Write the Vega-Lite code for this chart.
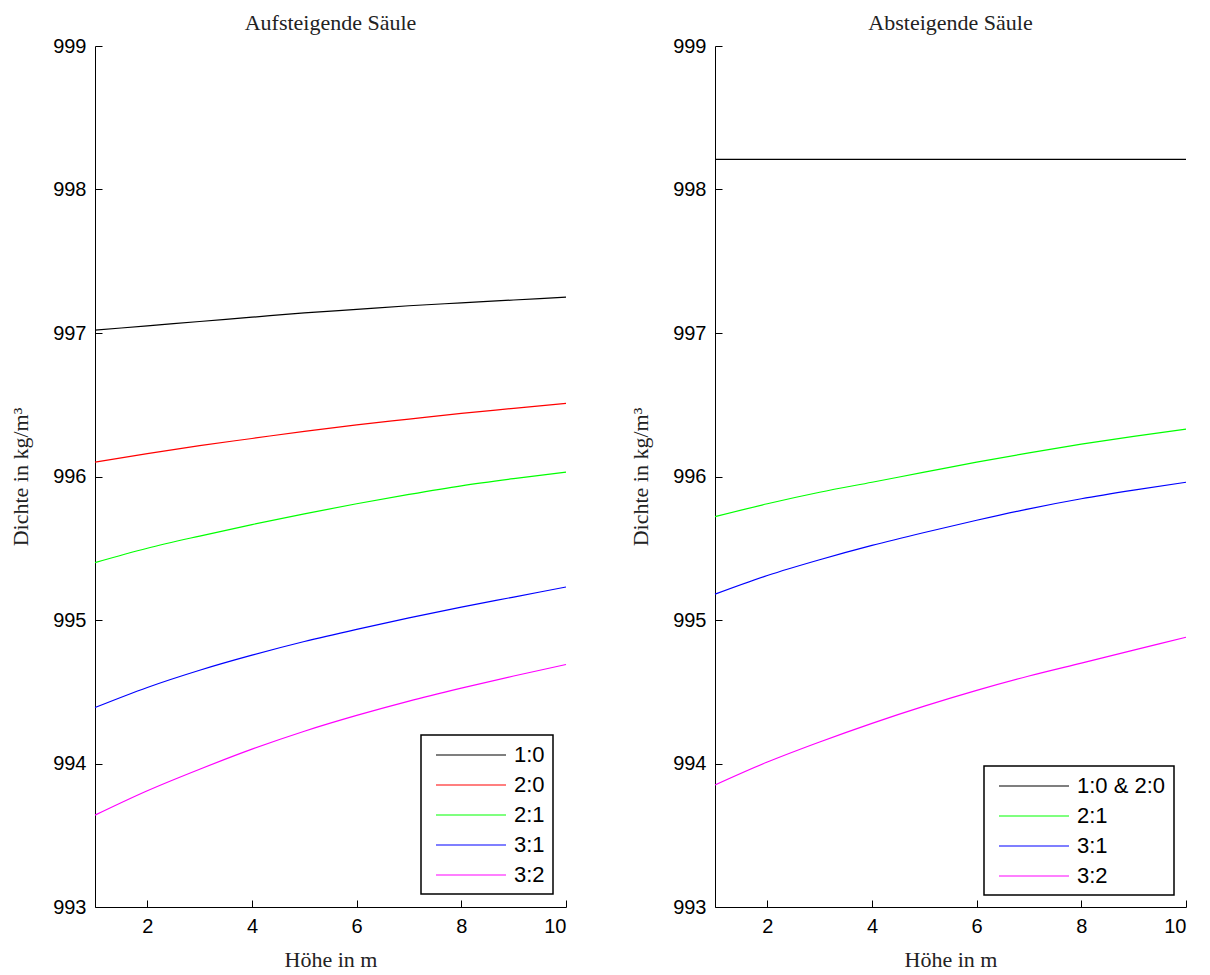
{
  "$schema": "https://vega.github.io/schema/vega-lite/v6.json",
  "background": "white",
  "padding": {"left": 9, "top": 12, "right": 5, "bottom": 5},
  "datasets": {
    "left": [
      {"h": 1, "rho": 997.02, "s": "1:0"}, {"h": 2, "rho": 997.05, "s": "1:0"}, {"h": 3, "rho": 997.08, "s": "1:0"}, {"h": 4, "rho": 997.11, "s": "1:0"}, {"h": 5, "rho": 997.14, "s": "1:0"}, {"h": 6, "rho": 997.165, "s": "1:0"}, {"h": 7, "rho": 997.19, "s": "1:0"}, {"h": 8, "rho": 997.21, "s": "1:0"}, {"h": 9, "rho": 997.23, "s": "1:0"}, {"h": 10, "rho": 997.25, "s": "1:0"},
      {"h": 1, "rho": 996.10, "s": "2:0"}, {"h": 2, "rho": 996.16, "s": "2:0"}, {"h": 3, "rho": 996.215, "s": "2:0"}, {"h": 4, "rho": 996.265, "s": "2:0"}, {"h": 5, "rho": 996.315, "s": "2:0"}, {"h": 6, "rho": 996.36, "s": "2:0"}, {"h": 7, "rho": 996.40, "s": "2:0"}, {"h": 8, "rho": 996.44, "s": "2:0"}, {"h": 9, "rho": 996.475, "s": "2:0"}, {"h": 10, "rho": 996.51, "s": "2:0"},
      {"h": 1, "rho": 995.40, "s": "2:1"}, {"h": 2, "rho": 995.50, "s": "2:1"}, {"h": 3, "rho": 995.585, "s": "2:1"}, {"h": 4, "rho": 995.665, "s": "2:1"}, {"h": 5, "rho": 995.74, "s": "2:1"}, {"h": 6, "rho": 995.81, "s": "2:1"}, {"h": 7, "rho": 995.875, "s": "2:1"}, {"h": 8, "rho": 995.935, "s": "2:1"}, {"h": 9, "rho": 995.985, "s": "2:1"}, {"h": 10, "rho": 996.03, "s": "2:1"},
      {"h": 1, "rho": 994.39, "s": "3:1"}, {"h": 2, "rho": 994.53, "s": "3:1"}, {"h": 3, "rho": 994.65, "s": "3:1"}, {"h": 4, "rho": 994.755, "s": "3:1"}, {"h": 5, "rho": 994.85, "s": "3:1"}, {"h": 6, "rho": 994.935, "s": "3:1"}, {"h": 7, "rho": 995.015, "s": "3:1"}, {"h": 8, "rho": 995.09, "s": "3:1"}, {"h": 9, "rho": 995.16, "s": "3:1"}, {"h": 10, "rho": 995.23, "s": "3:1"},
      {"h": 1, "rho": 993.64, "s": "3:2"}, {"h": 2, "rho": 993.81, "s": "3:2"}, {"h": 3, "rho": 993.96, "s": "3:2"}, {"h": 4, "rho": 994.10, "s": "3:2"}, {"h": 5, "rho": 994.225, "s": "3:2"}, {"h": 6, "rho": 994.335, "s": "3:2"}, {"h": 7, "rho": 994.435, "s": "3:2"}, {"h": 8, "rho": 994.525, "s": "3:2"}, {"h": 9, "rho": 994.61, "s": "3:2"}, {"h": 10, "rho": 994.69, "s": "3:2"}
    ],
    "right": [
      {"h": 1, "rho": 998.21, "s": "1:0 & 2:0"}, {"h": 10, "rho": 998.21, "s": "1:0 & 2:0"},
      {"h": 1, "rho": 995.72, "s": "2:1"}, {"h": 2, "rho": 995.81, "s": "2:1"}, {"h": 3, "rho": 995.89, "s": "2:1"}, {"h": 4, "rho": 995.96, "s": "2:1"}, {"h": 5, "rho": 996.03, "s": "2:1"}, {"h": 6, "rho": 996.10, "s": "2:1"}, {"h": 7, "rho": 996.165, "s": "2:1"}, {"h": 8, "rho": 996.225, "s": "2:1"}, {"h": 9, "rho": 996.28, "s": "2:1"}, {"h": 10, "rho": 996.33, "s": "2:1"},
      {"h": 1, "rho": 995.18, "s": "3:1"}, {"h": 2, "rho": 995.31, "s": "3:1"}, {"h": 3, "rho": 995.42, "s": "3:1"}, {"h": 4, "rho": 995.52, "s": "3:1"}, {"h": 5, "rho": 995.61, "s": "3:1"}, {"h": 6, "rho": 995.695, "s": "3:1"}, {"h": 7, "rho": 995.775, "s": "3:1"}, {"h": 8, "rho": 995.845, "s": "3:1"}, {"h": 9, "rho": 995.905, "s": "3:1"}, {"h": 10, "rho": 995.96, "s": "3:1"},
      {"h": 1, "rho": 993.85, "s": "3:2"}, {"h": 2, "rho": 994.01, "s": "3:2"}, {"h": 3, "rho": 994.15, "s": "3:2"}, {"h": 4, "rho": 994.28, "s": "3:2"}, {"h": 5, "rho": 994.40, "s": "3:2"}, {"h": 6, "rho": 994.51, "s": "3:2"}, {"h": 7, "rho": 994.61, "s": "3:2"}, {"h": 8, "rho": 994.70, "s": "3:2"}, {"h": 9, "rho": 994.79, "s": "3:2"}, {"h": 10, "rho": 994.88, "s": "3:2"}
    ]
  },
  "config": {
    "view": {"stroke": null},
    "title": {"font": "Liberation Serif", "fontSize": 22, "fontWeight": "normal", "color": "#222", "offset": 1},
    "axis": {
      "grid": false,
      "domainColor": "black",
      "domainWidth": 1,
      "tickColor": "black",
      "tickSize": -7,
      "labelFont": "Liberation Sans",
      "labelFontSize": 20,
      "labelColor": "black",
      "titleFont": "Liberation Serif",
      "titleFontSize": 22,
      "titleFontWeight": "normal",
      "titleColor": "#222"
    },
    "legend": {
      "orient": "bottom-right",
      "offset": 13,
      "strokeColor": "black",
      "strokeWidth": 1.5,
      "fillColor": "white",
      "padding": 8,
      "symbolType": "M-3.182,0H3.182",
      "symbolSize": 484,
      "symbolStrokeWidth": 1,
      "symbolOffset": 30,
      "labelFont": "Liberation Sans",
      "labelFontSize": 22,
      "labelColor": "black",
      "labelOffset": 31,
      "rowPadding": 7,
      "title": null
    },
    "line": {"strokeWidth": 1.2, "interpolate": "monotone"}
  },
  "bounds": "flush",
  "spacing": 149,
  "resolve": {"scale": {"color": "independent"}},
  "hconcat": [
    {
      "title": "Aufsteigende Säule",
      "width": 471,
      "height": 861,
      "data": {"name": "left"},
      "mark": {"type": "line"},
      "encoding": {
        "x": {"field": "h", "type": "quantitative", "scale": {"domain": [1, 10], "nice": false, "zero": false},
          "axis": {"title": "Höhe in m", "values": [2, 4, 6, 8, 10], "labelPadding": 16, "titlePadding": 13}},
        "y": {"field": "rho", "type": "quantitative", "scale": {"domain": [993, 999], "nice": false, "zero": false},
          "axis": {"title": "Dichte in kg/m³", "values": [993, 994, 995, 996, 997, 998, 999], "labelPadding": 16, "titlePadding": 20, "format": "d"}},
        "color": {"field": "s", "type": "nominal",
          "scale": {"domain": ["1:0", "2:0", "2:1", "3:1", "3:2"], "range": ["#000000", "#ff0000", "#00ff00", "#0000ff", "#ff00ff"]}}
      }
    },
    {
      "title": "Absteigende Säule",
      "width": 471,
      "height": 861,
      "data": {"name": "right"},
      "mark": {"type": "line"},
      "encoding": {
        "x": {"field": "h", "type": "quantitative", "scale": {"domain": [1, 10], "nice": false, "zero": false},
          "axis": {"title": "Höhe in m", "values": [2, 4, 6, 8, 10], "labelPadding": 16, "titlePadding": 13}},
        "y": {"field": "rho", "type": "quantitative", "scale": {"domain": [993, 999], "nice": false, "zero": false},
          "axis": {"title": "Dichte in kg/m³", "values": [993, 994, 995, 996, 997, 998, 999], "labelPadding": 16, "titlePadding": 20, "format": "d"}},
        "color": {"field": "s", "type": "nominal",
          "scale": {"domain": ["1:0 & 2:0", "2:1", "3:1", "3:2"], "range": ["#000000", "#00ff00", "#0000ff", "#ff00ff"]},
          "legend": {"offset": 12}}
      }
    }
  ]
}
